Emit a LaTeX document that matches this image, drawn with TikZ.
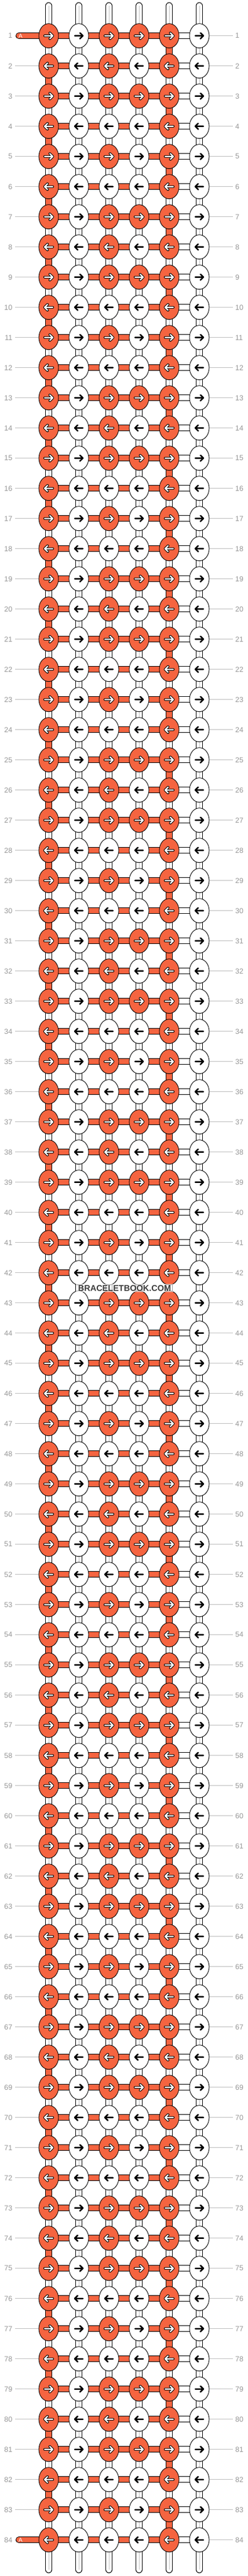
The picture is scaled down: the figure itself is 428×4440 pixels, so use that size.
\documentclass[tikz,border=0pt]{standalone}
\usepackage{fontspec}
\setmainfont{Liberation Sans}
\usetikzlibrary{shapes.geometric}
\definecolor{kor}{RGB}{245,100,64}
\definecolor{lblgray}{RGB}{150,150,150}
\definecolor{linegray}{RGB}{190,190,190}
\definecolor{midgray}{RGB}{195,195,195}
\definecolor{wmark}{RGB}{60,60,60}
\tikzset{
  knotbase/.style={ellipse, draw=black, line width=0.9pt, minimum width=34pt, minimum height=42pt, inner sep=0pt},
  knotO/.style={knotbase, fill=kor},
  knotW/.style={knotbase, fill=white},
  hout/.style={draw=black, line width=11pt},
  hor/.style={draw=kor, line width=9pt},
  hwh/.style={draw=white, line width=9pt},
  vout/.style={draw=black, line width=12pt},
  vor/.style={draw=kor, line width=10pt},
  vwh/.style={draw=white, line width=10pt},
  vmid/.style={draw=midgray, line width=1pt},
  endout/.style={draw=black, line width=12pt, line cap=round},
  endwh/.style={draw=white, line width=10pt, line cap=round},
  aout/.style={draw=black, line width=11pt, line cap=round},
  aor/.style={draw=kor, line width=9pt, line cap=round},
  glline/.style={draw=linegray, line width=1pt},
  lbl/.style={text=lblgray, font=\fontsize{12.5}{12.5}\selectfont, inner sep=0pt},
  alabel/.style={text=white, font=\fontsize{10}{10}\selectfont, inner sep=0pt},
  arrowblk/.style={draw=black, line width=2.5pt, line cap=round, line join=round},
  arrowedge/.style={draw=black, line width=4.4pt, line cap=round, line join=round},
  arrowwht/.style={draw=white, line width=2.2pt, line cap=round, line join=round},
  wmtext/.style={text=wmark, font=\bfseries\fontsize{14.5}{14.5}\selectfont, inner xsep=4pt, inner ysep=1.5pt, fill=white, fill opacity=0.6, text opacity=1}
}
\begin{document}
\begin{tikzpicture}[x=1pt,y=-1pt]
\useasboundingbox (0,0) rectangle (428,4440);
% grid coordinates
\foreach \r in {1,...,84}{
  \pgfmathsetmacro\yy{61.7+52*(\r-1)}
  \foreach \c in {1,...,6}{
    \pgfmathsetmacro\xx{84+52*(\c-1)}
    \coordinate (p-\r-\c) at (\xx,\yy);
  }
  \coordinate (ll-\r) at (26,\yy);
  \coordinate (rl-\r) at (402,\yy);
}
\foreach \c in {1,...,6}{
  \pgfmathsetmacro\xx{84+52*(\c-1)}
  \coordinate (top-\c) at (\xx,10);
  \coordinate (bot-\c) at (\xx,4429);
}
\coordinate (a-1) at (32.5,61.7);
\coordinate (a-84) at (32.5,4377.7);
% top and bottom strings
\foreach \c in {1,...,6}{
  \draw[endout] (top-\c) -- (p-1-\c);
  \draw[endwh] (top-\c) -- (p-1-\c);
  \draw[vmid] (top-\c) -- (p-1-\c);
  \draw[endout] (p-84-\c) -- (bot-\c);
  \draw[endwh] (p-84-\c) -- (bot-\c);
  \draw[vmid] (p-84-\c) -- (bot-\c);
}
% label lines
\foreach \r in {2,...,83}{
  \draw[glline] (ll-\r) -- (p-\r-1);
}
\foreach \r in {1,...,84}{
  \draw[glline] (p-\r-6) -- (rl-\r);
}
% working thread ends
\draw[aout] (a-1) -- (p-1-1);
\draw[aor] (a-1) -- (p-1-1);
\draw[aout] (a-84) -- (p-84-1);
\draw[aor] (a-84) -- (p-84-1);
% horizontal segments
\foreach \r in {1,...,84}{
  \foreach \c/\n in {1/2,2/3,3/4,4/5}{
    \draw[hout] (p-\r-\c) -- (p-\r-\n);
    \draw[hor] (p-\r-\c) -- (p-\r-\n);
  }
  \draw[hout] (p-\r-5) -- (p-\r-6);
  \draw[hwh] (p-\r-5) -- (p-\r-6);
}
% vertical segments
\foreach \r in {1,...,83}{
  \pgfmathtruncatemacro\nr{\r+1}
  \pgfmathtruncatemacro\odd{mod(\r,2)}
  \foreach \c in {1,...,6}{
    \pgfmathtruncatemacro\vo{((\c==1)&&(\odd==0))||((\c==5)&&(\odd==1))}
    \draw[vout] (p-\r-\c) -- (p-\nr-\c);
    \ifnum\vo=1
      \draw[vor] (p-\r-\c) -- (p-\nr-\c);
    \else
      \draw[vwh] (p-\r-\c) -- (p-\nr-\c);
      \draw[vmid] (p-\r-\c) -- (p-\nr-\c);
    \fi
  }
}
% knots
\foreach \r in {1,...,84}{
  \pgfmathtruncatemacro\m{mod(\r-1,6)}
  \pgfmathtruncatemacro\odd{mod(\r,2)}
  \pgfmathsetmacro\dd{\odd==1 ? 1 : -1}
  \pgfmathsetmacro\tip{7*\dd}
  \pgfmathsetmacro\bk{2*\dd}
  \pgfmathsetmacro\tl{-7*\dd}
  \foreach \c in {1,...,6}{
    \pgfmathtruncatemacro\isor{(\c==1)||(\c==5)||((\c==3)&&((\m==0)||(\m==1)||(\m==2)||(\m==4)))||((\c==4)&&((\m==0)||(\m==2)))}
    \ifnum\isor=1
      \node[knotO] (k-\r-\c) at (p-\r-\c) {};
      \draw[arrowedge, shift={(p-\r-\c)}] (\tl,0) -- (\tip,0) (\bk,-5) -- (\tip,0) -- (\bk,5);
      \draw[arrowwht, shift={(p-\r-\c)}] (\tl,0) -- (\tip,0) (\bk,-5) -- (\tip,0) -- (\bk,5);
    \else
      \node[knotW] (k-\r-\c) at (p-\r-\c) {};
      \draw[arrowblk, shift={(p-\r-\c)}] (\tl,0) -- (\tip,0) (\bk,-5) -- (\tip,0) -- (\bk,5);
    \fi
  }
}
% row labels
\foreach \r in {1,...,84}{
  \pgfmathsetmacro\yy{61.7+52*(\r-1)}
  \node[lbl, anchor=east] (ln-\r) at (21.5,\yy) {\r};
  \node[lbl, anchor=west] (rn-\r) at (406,\yy) {\r};
}
\node[alabel] (alab-1) at (35.5,61.7) {A};
\node[alabel] (alab-84) at (35.5,4377.7) {A};
\node[wmtext] (wm) at (215,2220) {BRACELETBOOK.COM};
\end{tikzpicture}
\end{document}
